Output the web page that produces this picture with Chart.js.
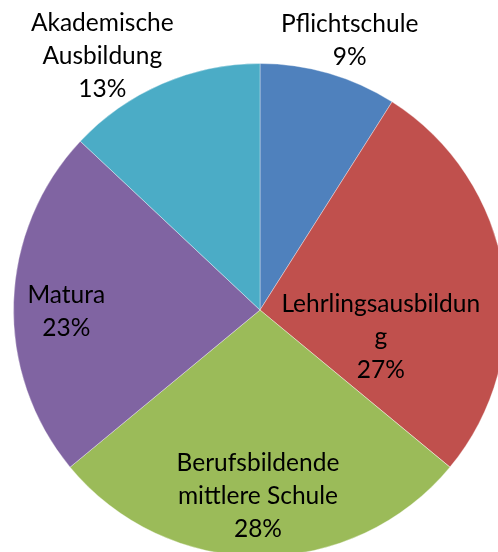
<!DOCTYPE html>
<html>
<head>
<meta charset="utf-8">
<script src="https://cdn.jsdelivr.net/npm/chart.js@4"></script>
<style>
  html, body { margin: 0; padding: 0; background: #fff; overflow: hidden; }
  #wrap { position: absolute; left: 0; top: 0; width: 520px; height: 620px; }
</style>
</head>
<body>
<div id="wrap"><canvas id="pie" width="520" height="620"></canvas></div>
<script>
const categories = ["Pflichtschule", "Lehrlingsausbildung", "Berufsbildende mittlere Schule", "Matura", "Akademische Ausbildung"];
const shares = [9, 27, 28, 23, 13];
const labelLines = [
  ["Pflichtschule"],
  ["Lehrlingsausbildun", "g"],
  ["Berufsbildende", "mittlere Schule"],
  ["Matura"],
  ["Akademische", "Ausbildung"]
];
const sliceColors = ["#4F81BD", "#C0504D", "#9BBB59", "#8064A2", "#4BACC6"];

// label placement relative to each slice: [fraction of radius, angle nudge in degrees]
const labelPlace = [[1.123, 2.7], [0.51, 25.1], [0.788, 0.6], [0.787, -4.75], [1.184, -9.3]];
const fontSize = 24.5, lineHeight = 33;

const labelPlugin = {
  id: "sliceLabels",
  afterDatasetsDraw(chart) {
    const c = chart.ctx;
    const total = shares.reduce((a, b) => a + b, 0);
    c.save();
    c.font = `${fontSize}px Lato`;
    c.fillStyle = "#000";
    c.textAlign = "center";
    c.textBaseline = "alphabetic";
    chart.getDatasetMeta(0).data.forEach((arc, i) => {
      const p = arc.getProps(["x", "y", "startAngle", "endAngle", "outerRadius"], true);
      const mid = (p.startAngle + p.endAngle) / 2 + labelPlace[i][1] * Math.PI / 180;
      const r = p.outerRadius * labelPlace[i][0];
      const cx = p.x + Math.cos(mid) * r;
      const cy = p.y + Math.sin(mid) * r;
      const lines = [...labelLines[i], Math.round(shares[i] / total * 100) + "%"];
      lines.forEach((t, k) => {
        c.fillText(t, cx, cy + (k - (lines.length - 1) / 2) * lineHeight);
      });
    });
    c.restore();
  }
};

new Chart(document.getElementById("pie"), {
  type: "pie",
  data: {
    labels: categories,
    datasets: [{
      data: shares,
      backgroundColor: sliceColors,
      borderColor: "rgba(255,255,255,0.35)",
      borderWidth: 1
    }]
  },
  options: {
    responsive: false,
    animation: false,
    layout: { padding: { left: 13, right: 13, top: 63, bottom: 63 } },
    plugins: { legend: { display: false }, tooltip: { enabled: false } }
  },
  plugins: [labelPlugin]
});
</script>
</body>
</html>
